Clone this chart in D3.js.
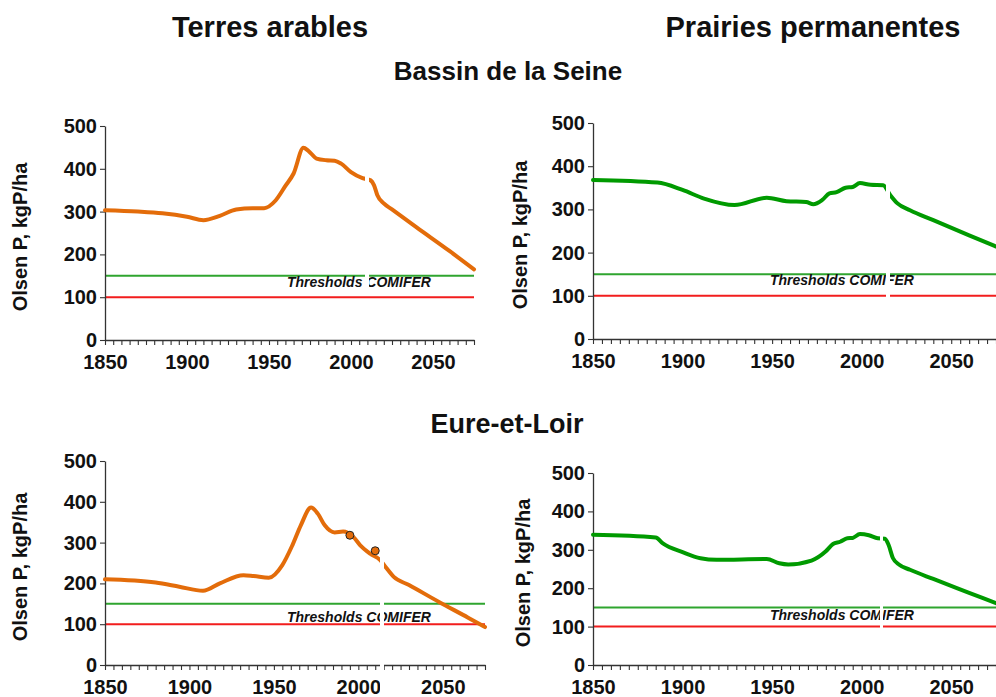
<!DOCTYPE html>
<html>
<head>
<meta charset="utf-8">
<script src="https://cdn.jsdelivr.net/npm/d3@7"></script>
<style>
  html, body { margin: 0; padding: 0; background: #fff; }
  svg { display: block; font-family: "Liberation Sans", Arial, sans-serif; }
</style>
</head>
<body>
<svg id="chart" width="996" height="697"></svg>
<script>
// Olsen P stocks (kgP/ha), reconstructed and projected trajectories
const seineArableYears = [1850, 1870, 1885, 1900, 1910, 1920, 1930, 1940, 1947, 1954, 1960, 1965, 1971, 1974, 1979, 1985, 1990, 1994, 2000, 2007, 2012, 2014, 2016, 2020, 2025, 2040, 2060, 2075];
const seineArableP     = [303, 300, 296, 288, 280, 290, 305, 308, 308, 326, 360, 389, 449, 442, 424, 420, 419, 412, 392, 378, 373, 362, 339, 319, 305, 263, 208, 165];

const seinePrairieYears = [1850, 1886, 1900, 1912, 1929, 1947, 1958, 1969, 1973, 1978, 1982, 1986, 1991, 1995, 1999, 2005, 2012, 2016, 2020, 2027, 2040, 2060, 2075];
const seinePrairieP     = [368, 362, 345, 325, 310, 327, 319, 317, 312, 322, 337, 340, 350, 352, 361, 357, 356, 333, 314, 298, 275, 240, 214];

const eureArableYears = [1850, 1880, 1894, 1908, 1918, 1932, 1938, 1947, 1955, 1961, 1966, 1972, 1976, 1980, 1986, 1991, 1997, 2001, 2007, 2013, 2016, 2021, 2030, 2048, 2065, 2075];
const eureArableP     = [210, 202, 192, 182, 200, 220, 218, 214, 245, 294, 343, 386, 371, 343, 325, 327, 314, 294, 273, 257, 241, 216, 196, 154, 116, 93];

const eurePrairieYears = [1850, 1885, 1889, 1900, 1910, 1919, 1947, 1954, 1959, 1972, 1980, 1984, 1988, 1992, 1995, 1999, 2004, 2009, 2013, 2015, 2017.5, 2021, 2027, 2040, 2060, 2075];
const eurePrairieP     = [339, 332, 317, 294, 278, 274, 276, 265, 262, 272, 296, 315, 321, 330, 331, 341, 338, 330, 329, 313, 278, 261, 248, 224, 188, 161];

// Soil-test observations (Eure-et-Loir, arable land)
const eureObsYears = [1995, 2010];
const eureObsP     = [318, 280];

// COMIFER agronomic thresholds
const thresholdHigh = 150;
const thresholdLow  = 100;
const thresholdLabel = "Thresholds COMIFER";

// Axis definitions
const yearDomain = [1850, 2075];
const pDomain = [0, 500];
const yTickValues = [0, 100, 200, 300, 400, 500];
const xLabelYears = [1850, 1900, 1950, 2000, 2050];
const xMinorStep = 5;

const columnTitles = ["Terres arables", "Prairies permanentes"];
const rowTitles = ["Bassin de la Seine", "Eure-et-Loir"];
const yAxisLabel = "Olsen P, kgP/ha";

const ORANGE = "#E36C0A";
const GREEN = "#009A00";
const T_GREEN = "#2FA52F";
const T_RED = "#F21D1D";

const svg = d3.select("#chart");

// Panel layout
const panels = [
  { years: seineArableYears,  values: seineArableP,  color: ORANGE, x0: 105, x1: 474, yb: 340, yt: 126, labelX: 27, textDx: 182, textDy: 10,
    gap: { x: 365, w: 4, top: 120, bottom: 292 } },
  { years: seinePrairieYears, values: seinePrairieP, color: GREEN,  x0: 593, x1: 996, yb: 339, yt: 123, labelX: 527, textDx: 177, textDy: 11,
    gap: { x: 886, w: 4, top: 120, bottom: 300 } },
  { years: eureArableYears,   values: eureArableP,   color: ORANGE, x0: 105, x1: 485, yb: 665, yt: 461, labelX: 27, textDx: 182, textDy: 2,
    gap: { x: 380, w: 4, top: 455, bottom: 697 }, obs: true },
  { years: eurePrairieYears,  values: eurePrairieP,  color: GREEN,  x0: 593, x1: 996, yb: 665, yt: 473, labelX: 530, textDx: 177, textDy: 7,
    gap: { x: 880, w: 3, top: 470, bottom: 632 } }
];

const minorTicks = d3.range(yearDomain[0], yearDomain[1] + 1, xMinorStep);

panels.forEach(p => {
  const x = d3.scaleLinear().domain(yearDomain).range([p.x0, p.x1]);
  const y = d3.scaleLinear().domain(pDomain).range([p.yb, p.yt]);
  const g = svg.append("g");

  // threshold lines
  g.append("line").attr("x1", p.x0).attr("x2", p.x1)
    .attr("y1", y(thresholdHigh)).attr("y2", y(thresholdHigh))
    .attr("stroke", T_GREEN).attr("stroke-width", 2);
  g.append("line").attr("x1", p.x0).attr("x2", p.x1)
    .attr("y1", y(thresholdLow)).attr("y2", y(thresholdLow))
    .attr("stroke", T_RED).attr("stroke-width", 2);
  g.append("text")
    .attr("x", p.x0 + p.textDx).attr("y", y(thresholdLow) - p.textDy)
    .attr("font-size", 14).attr("font-weight", "bold").attr("font-style", "italic")
    .attr("fill", "#111")
    .text(thresholdLabel);

  // x axis: a tick every 5 years, labels every 50
  const xAxis = d3.axisBottom(x)
    .tickValues(minorTicks)
    .tickSize(5).tickSizeOuter(0).tickPadding(10)
    .tickFormat(d => xLabelYears.includes(d) ? d3.format("d")(d) : "");
  const gx = g.append("g").attr("transform", `translate(0,${p.yb})`).call(xAxis);
  gx.select(".domain").attr("stroke", "#333").attr("stroke-width", 1.3);
  gx.selectAll(".tick line").attr("stroke", "#333").attr("stroke-width", 1.1);
  gx.selectAll(".tick text").attr("font-size", 20).attr("font-weight", "bold")
    .attr("fill", "#111").attr("font-family", "Liberation Sans, Arial, sans-serif");

  // y axis
  const yAxis = d3.axisLeft(y).tickValues(yTickValues)
    .tickSize(5).tickSizeOuter(0).tickPadding(3).tickFormat(d3.format("d"));
  const gy = g.append("g").attr("transform", `translate(${p.x0},0)`).call(yAxis);
  gy.select(".domain").attr("stroke", "#333").attr("stroke-width", 1.3);
  gy.selectAll(".tick line").attr("stroke", "#333").attr("stroke-width", 1.1);
  gy.selectAll(".tick text").attr("font-size", 20).attr("font-weight", "bold")
    .attr("fill", "#111").attr("font-family", "Liberation Sans, Arial, sans-serif");

  // y axis title
  g.append("text")
    .attr("transform", `translate(${p.labelX},${(p.yb + p.yt) / 2 + 4}) rotate(-90)`)
    .attr("text-anchor", "middle")
    .attr("font-size", 20).attr("font-weight", "bold").attr("fill", "#111")
    .text(yAxisLabel);

  // trajectory
  const pts = p.years.map((yr, i) => [yr, p.values[i]]);
  const line = d3.line().x(d => x(d[0])).y(d => y(d[1])).curve(d3.curveMonotoneX);
  g.append("path").datum(pts)
    .attr("d", line).attr("fill", "none")
    .attr("stroke", p.color).attr("stroke-width", 4)
    .attr("stroke-linejoin", "round").attr("stroke-linecap", "round");

  // observations
  if (p.obs) {
    g.selectAll("circle.obs").data(eureObsYears.map((yr, i) => [yr, eureObsP[i]]))
      .join("circle").attr("class", "obs")
      .attr("cx", d => x(d[0])).attr("cy", d => y(d[1])).attr("r", 4)
      .attr("fill", ORANGE).attr("stroke", "#222").attr("stroke-width", 1);
  }

  // present-day break
  g.append("rect")
    .attr("x", p.gap.x).attr("y", p.gap.top)
    .attr("width", p.gap.w).attr("height", p.gap.bottom - p.gap.top)
    .attr("fill", "#fff");
});

// column headings
svg.append("text").attr("x", 270).attr("y", 37).attr("text-anchor", "middle")
  .attr("font-size", 29).attr("font-weight", "bold").attr("fill", "#111").text(columnTitles[0]);
svg.append("text").attr("x", 813).attr("y", 37).attr("text-anchor", "middle")
  .attr("font-size", 29).attr("font-weight", "bold").attr("fill", "#111").text(columnTitles[1]);

// row headings
svg.append("text").attr("x", 508).attr("y", 80).attr("text-anchor", "middle")
  .attr("font-size", 26).attr("font-weight", "bold").attr("fill", "#111").text(rowTitles[0]);
svg.append("text").attr("x", 507).attr("y", 433).attr("text-anchor", "middle")
  .attr("font-size", 27).attr("font-weight", "bold").attr("fill", "#111").text(rowTitles[1]);
</script>
</body>
</html>
